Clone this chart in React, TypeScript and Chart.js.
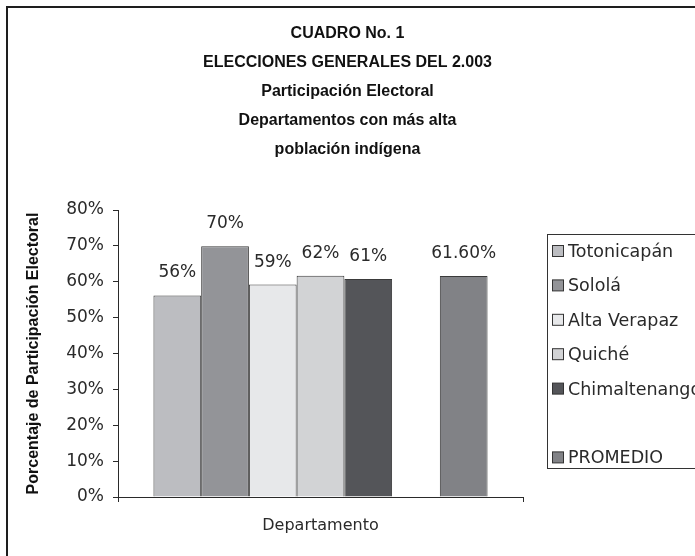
import React, { useEffect, useRef } from "react";
import { Chart, registerables } from "chart.js";

Chart.register(...registerables);

const titleLines = [
  "CUADRO No. 1",
  "ELECCIONES GENERALES DEL 2.003",
  "Participación Electoral",
  "Departamentos con más alta",
  "población indígena",
];
const categories = ["Departamento"];
const seriesNames = ["Totonicapán", "Sololá", "Alta Verapaz", "Quiché", "Chimaltenango", "", "PROMEDIO"];
const seriesValues = [56.2, 69.9, 59.2, 61.7, 60.8, null, 61.6];
const valueLabels = ["56%", "70%", "59%", "62%", "61%", "", "61.60%"];
const seriesColors = ["#bcbdc1", "#939498", "#e7e8ea", "#d2d3d5", "#545559", "rgba(0,0,0,0)", "#818286"];
const yTicks = [0, 10, 20, 30, 40, 50, 60, 70, 80];
const yTitle = "Porcentaje de Participación Electoral";

const DARK = "#2a2a2a";
const SANS = "'DejaVu Sans', sans-serif";
const ARIAL = "'Liberation Sans', Arial, sans-serif";

const framePlugin = {
  id: "frame",
  beforeDraw(chart: any) {
    const ctx = chart.ctx;
    ctx.save();
    ctx.fillStyle = "#ffffff";
    ctx.fillRect(0, 0, chart.width, chart.height);
    ctx.strokeStyle = "#1e1e1e";
    ctx.lineWidth = 2;
    ctx.strokeRect(7, 7, chart.width + 20, chart.height + 20);
    ctx.restore();
  },
};

const valueLabelPlugin = {
  id: "valueLabels",
  afterDatasetsDraw(chart: any) {
    const ctx = chart.ctx;
    ctx.save();
    ctx.font = `17px ${SANS}`;
    ctx.fillStyle = DARK;
    ctx.textAlign = "center";
    ctx.textBaseline = "alphabetic";
    chart.data.datasets.forEach((ds: any, i: number) => {
      const meta = chart.getDatasetMeta(i);
      const el = meta.data[0];
      if (!el || ds.data[0] == null) return;
      ctx.fillText(valueLabels[i], el.x, el.y - 18);
    });
    ctx.restore();
  },
};

const boxLegendPlugin = {
  id: "boxLegend",
  afterDraw(chart: any) {
    const ctx = chart.ctx;
    const left = 547.5;
    const top = 234.5;
    const bottom = 468.5;
    const rowTop = 251;
    const rowStep = 34.4;
    ctx.save();
    ctx.strokeStyle = "#333333";
    ctx.lineWidth = 1;
    ctx.strokeRect(left, top, chart.width, bottom - top);
    ctx.font = `17.5px ${SANS}`;
    ctx.textAlign = "left";
    ctx.textBaseline = "alphabetic";
    chart.data.datasets.forEach((ds: any, i: number) => {
      const cy = rowTop + i * rowStep;
      if (!ds.label) return;
      ctx.fillStyle = ds.backgroundColor;
      ctx.fillRect(552.5, cy - 5.5, 11, 11);
      ctx.strokeStyle = "#333333";
      ctx.strokeRect(552.5, cy - 5.5, 11, 11);
      ctx.fillStyle = DARK;
      ctx.fillText(ds.label, 568, cy + 6);
    });
    ctx.restore();
  },
};

export default function App() {
  const ref = useRef<HTMLCanvasElement | null>(null);
  useEffect(() => {
    if (!ref.current) return;
    const chart = new Chart(ref.current, {
      type: "bar",
      data: {
        labels: categories,
        datasets: seriesNames.map((name, i) => ({
          label: name,
          data: [seriesValues[i]],
          backgroundColor: seriesColors[i],
          borderColor: i === 5 ? "rgba(0,0,0,0)" : "#3a3a3a",
          borderWidth: 1,
          barPercentage: 1,
          categoryPercentage: 0.825,
        })),
      },
      options: {
        responsive: false,
        animation: false,
        layout: { padding: 0 },
        plugins: {
          legend: { display: false },
          tooltip: { enabled: false },
          title: {
            display: true,
            text: titleLines,
            color: "#111",
            font: { family: ARIAL, size: 16, weight: "bold", lineHeight: 1.8125 },
            padding: { top: 19.5, bottom: 45.5 },
          },
        },
        scales: {
          x: {
            grid: { display: true, drawOnChartArea: false, drawTicks: true, tickLength: 5, color: DARK },
            border: { display: true, color: DARK, width: 1 },
            ticks: { display: false },
            title: {
              display: true,
              text: "Departamento",
              color: DARK,
              font: { family: SANS, size: 16 },
              padding: { top: 10, bottom: 21 },
            },
            afterFit(scale: any) {
              scale.height = 59;
            },
          },
          y: {
            min: 0,
            max: 80,
            afterBuildTicks(scale: any) {
              scale.ticks = yTicks.map((v) => ({ value: v }));
            },
            grid: { display: true, drawOnChartArea: false, drawTicks: true, tickLength: 5, color: DARK },
            border: { display: true, color: DARK, width: 1 },
            ticks: {
              color: DARK,
              padding: 9,
              font: { family: SANS, size: 17 },
              callback: (v: any) => `${v}%`,
            },
            title: {
              display: true,
              text: yTitle,
              color: "#111",
              font: { family: ARIAL, size: 16, weight: "bold" },
              padding: { top: 24, bottom: 10 },
            },
            afterFit(scale: any) {
              scale.width = 118;
            },
          },
          legendSpace: {
            type: "linear",
            position: "right",
            display: true,
            grid: { display: false, drawTicks: false },
            border: { display: false },
            ticks: { display: false },
            afterFit(scale: any) {
              scale.width = 172;
            },
          },
        },
      },
      plugins: [framePlugin, valueLabelPlugin, boxLegendPlugin],
    });
    return () => chart.destroy();
  }, []);
  return (
    <div style={{ position: "fixed", left: 0, top: 0, width: 695, height: 556, background: "#fff" }}>
      <canvas ref={ref} width={695} height={556} style={{ display: "block" }} />
    </div>
  );
}
